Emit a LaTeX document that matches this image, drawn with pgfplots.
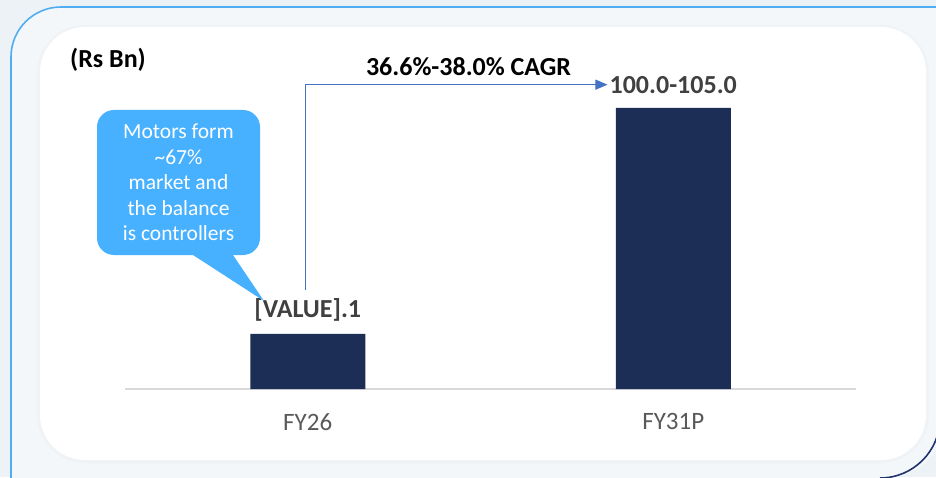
\documentclass[border=0pt]{standalone}
\usepackage{fontspec}
\setmainfont{Carlito}
\usepackage{pgfplots}
\pgfplotsset{compat=1.18}
\usetikzlibrary{arrows.meta}

\definecolor{bgout}{HTML}{EDF2F6}
\definecolor{bgin}{HTML}{F3F7FA}
\definecolor{framelight}{HTML}{4FAEF2}
\definecolor{framedark}{HTML}{22346E}
\definecolor{barnavy}{HTML}{1C2D56}
\definecolor{callout}{HTML}{47B0FF}
\definecolor{arrowblue}{HTML}{4472C4}
\definecolor{labgrey}{HTML}{404040}
\definecolor{tickgrey}{HTML}{595959}

\pgfplotstableread{
x  y
0  20.1
1  102.5
}\bars

\begin{document}
\begin{tikzpicture}[x=1pt,y=1pt]
% page and frame
\fill[bgout] (0,0) rectangle (936,477);
\begin{scope}
\clip (0,0) rectangle (936,477);
\fill[bgin] (11,-5) -- (11,420) arc[start angle=180,end angle=90,radius=50] -- (945,470) -- (945,59)
  arc[start angle=0,end angle=-90,radius=60] -- cycle;
\draw[framelight, line width=1.6pt] (11,-5) -- (11,420) arc[start angle=180,end angle=90,radius=50] -- (945,470);
\draw[framedark, line width=1.6pt] (880,-1) arc[start angle=-90,end angle=0,radius=60];
\end{scope}
\fill[black, opacity=0.015, rounded corners=48pt] (37,14) rectangle (929,452);
\fill[white, rounded corners=45pt] (40,17) rectangle (926,450);

\begin{axis}[
  at={(125pt,88pt)}, anchor=south west,
  scale only axis,
  width=731pt, height=329pt,
  xmin=-0.5, xmax=1.5, ymin=0, ymax=120,
  axis x line*=bottom, axis y line=none,
  x axis line style={draw=black!15, line width=1.5pt, -},
  xtick=data, xticklabels={FY26,FY31P},
  major tick length=0pt, ytick=\empty,
  xticklabel style={font=\fontsize{25}{28}\selectfont, text=tickgrey, yshift=-21pt},
  clip=false,
]
\addplot[ybar, bar width=115pt, fill=barnavy, draw=none] table[x=x, y=y] {\bars};
\node[above, font=\bfseries\fontsize{26}{30}\selectfont, text=labgrey, inner sep=0pt] at (axis cs:0,20.1) [yshift=12pt] {[VALUE].1};
\node[above, font=\bfseries\fontsize{26}{30}\selectfont, text=labgrey, inner sep=0pt] at (axis cs:1,102.5) [yshift=14pt] {100.0-105.0};
\draw[arrowblue, line width=1pt, -{Triangle[length=12pt,width=10pt]}] (axis cs:-0.005,36) |- (axis cs:0.82,111);
\node[above, font=\bfseries\fontsize{26}{30}\selectfont, inner sep=0pt] at (axis cs:0.44,111) [yshift=9pt] {36.6\%-38.0\% CAGR};
\end{axis}

\node[anchor=west, font=\bfseries\fontsize{26}{30}\selectfont, inner sep=0pt] at (70,417) {(Rs Bn)};

% callout
\fill[callout] (193,222) -- (264,176) -- (233,222) -- cycle;
\fill[callout, rounded corners=17pt] (97,222) rectangle (260,367);
\node[text=white, align=center, font=\fontsize{21.5}{25.5}\selectfont, inner sep=0pt] at (178.5,294.5)
  {Motors form\\\textasciitilde67\%\\market and\\the balance\\is controllers};
\end{tikzpicture}
\end{document}
